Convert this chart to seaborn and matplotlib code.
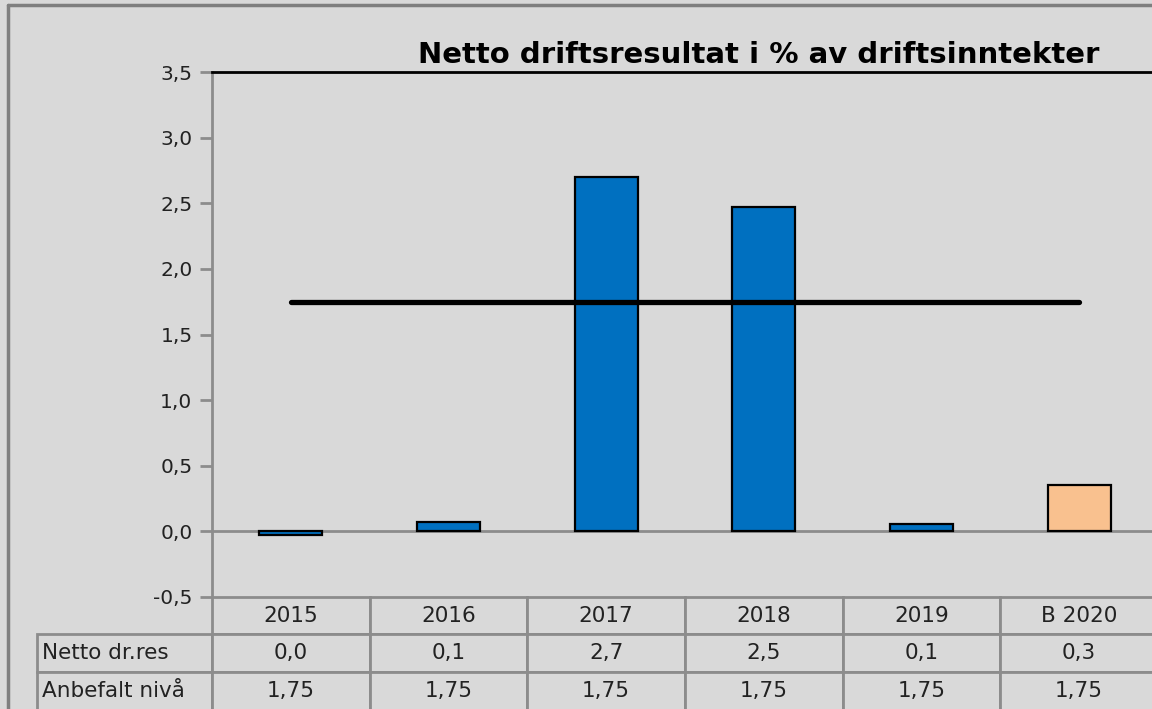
import matplotlib
matplotlib.use('Agg')
import matplotlib.pyplot as plt
import seaborn as sns
import pandas as pd
import numpy as np
from matplotlib.table import Table
from matplotlib.lines import Line2D

# data
aar = ['2015', '2016', '2017', '2018', '2019', 'B 2020']
netto = [-0.03, 0.07, 2.70, 2.47, 0.06, 0.35]
anbefalt = [1.75, 1.75, 1.75, 1.75, 1.75, 1.75]
netto_txt = ['0,0', '0,1', '2,7', '2,5', '0,1', '0,3']
anbefalt_txt = ['1,75', '1,75', '1,75', '1,75', '1,75', '1,75']
rad_navn = ['Netto dr.res', 'Anbefalt nivå']
type_ = ['regnskap', 'regnskap', 'regnskap', 'regnskap', 'regnskap', 'budsjett']
y_ticks = [-0.5, 0.0, 0.5, 1.0, 1.5, 2.0, 2.5, 3.0, 3.5]

bg = '#d9d9d9'
grey = '#8c8c8c'
txt = '#222222'

sns.set_theme(style='white')
plt.rcParams['font.family'] = ['DejaVu Sans']

W, H = 1152, 709
ax_w, ax_h = 946, 525
fig = plt.figure(figsize=(W / 100, H / 100), dpi=100, facecolor=bg)
ax = fig.add_axes([212 / W, 1 - 597 / H, ax_w / W, ax_h / H])
ax.set_facecolor(bg)

df = pd.DataFrame({'aar': aar, 'netto': netto, 'type': type_})
sns.barplot(data=df, x='aar', y='netto', hue='type',
            palette={'regnskap': '#0070c0', 'budsjett': '#f9c18f'},
            saturation=1, width=0.4, dodge=False, edgecolor='black',
            linewidth=1.6, legend=False, ax=ax, zorder=3)

sns.lineplot(x=np.arange(len(aar)), y=anbefalt, color='black', lw=3.8,
             ax=ax, zorder=4, solid_capstyle='round')

ax.axhline(0, color=grey, lw=2, zorder=2)

ax.set_xlim(-0.5, len(aar) - 0.5)
ax.set_ylim(-0.5, 3.5)
ax.set_xticks([])
ax.set_xlabel('')
ax.set_ylabel('')
ax.set_yticks(y_ticks)
ax.set_yticklabels([f'{v:.1f}'.replace('.', ',') for v in y_ticks])
ax.tick_params(axis='y', left=True, length=9, width=2, color=grey,
               labelsize=14.5, labelcolor=txt, pad=5)

for s in ['right', 'bottom']:
    ax.spines[s].set_visible(False)
ax.spines['left'].set_color(grey)
ax.spines['left'].set_linewidth(2)
ax.spines['top'].set_color('black')
ax.spines['top'].set_linewidth(2)

# data table below axis (sizes in axes units, so bbox scale stays 1)
lab_w = 175 / ax_w
col_w = 1 / len(aar)
row_h = [37 / ax_h, 38 / ax_h, 38 / ax_h]
tot_h = sum(row_h)
tab = Table(ax, bbox=[0, -tot_h, 1, tot_h])
rows = [aar, netto_txt, anbefalt_txt]
for r, vals in enumerate(rows):
    for c, v in enumerate(vals):
        cell = tab.add_cell(r, c, width=col_w, height=row_h[r], text=v,
                            loc='center', facecolor=bg, edgecolor=grey)
        cell.set_linewidth(2)
        cell.get_text().set_color(txt)
for r, name in enumerate(rad_navn, start=1):
    cell = tab.add_cell(r, -1, width=lab_w, height=row_h[r], text=name,
                        loc='left', facecolor=bg, edgecolor=grey)
    cell.PAD = 0.03
    cell.set_linewidth(2)
    cell.get_text().set_color(txt)
tab.auto_set_font_size(False)
tab.set_fontsize(15.5)
ax.add_table(tab)

fig.text(759 / W, 1 - 55 / H, 'Netto driftsresultat i % av driftsinntekter',
         ha='center', va='center', fontsize=21, fontweight='bold', color='black')

# outer chart border
fig.add_artist(Line2D([8 / W, 8 / W], [0, 1 - 5 / H], color='#7f7f7f', lw=2.5))
fig.add_artist(Line2D([8 / W, 1], [1 - 5 / H, 1 - 5 / H], color='#7f7f7f', lw=2.5))

fig.savefig('out.png', dpi=100, facecolor=bg)
